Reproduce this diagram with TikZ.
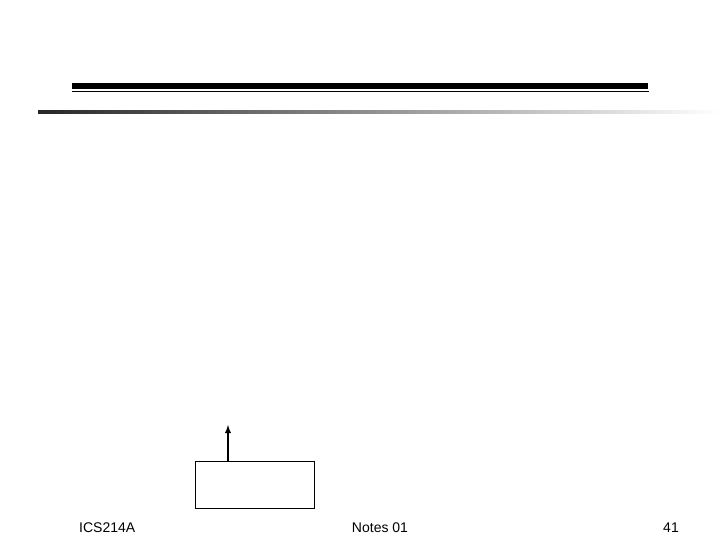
\documentclass[tikz,border=0pt]{standalone}
\usepackage{fontspec}
\setmainfont{Liberation Sans}
\usetikzlibrary{arrows, calc}

\begin{document}
\begin{tikzpicture}[x=1pt, y=-1pt]
	\useasboundingbox (0,0) rectangle (720,540);
	% title rules
	\fill [black] (72,83) rectangle (648,89);
	\draw [line width=1.3pt] (72,91.2) -- (649,91.2);
	\shade [left color=black!85, right color=white] (38,110.5) rectangle (720,113.5);
	% box with arrow
	\coordinate (b0) at (195,461);
	\coordinate (b1) at (314,508);
	\draw [line width=1pt] (b0) rectangle (b1);
	\coordinate (tip) at (228,425);
	\draw [line width=1.8pt, -latex] (tip |- b0) -- (tip);
	% footer
	\path (79,532) node [anchor=base west, inner sep=0pt, font=\fontsize{14}{16}\selectfont] (course) {ICS214A};
	\path (380,532) node [anchor=base, inner sep=0pt, font=\fontsize{14}{16}\selectfont] (notes) {Notes 01};
	\path (679,532) node [anchor=base east, inner sep=0pt, font=\fontsize{14}{16}\selectfont] (page) {41};
\end{tikzpicture}
\end{document}
